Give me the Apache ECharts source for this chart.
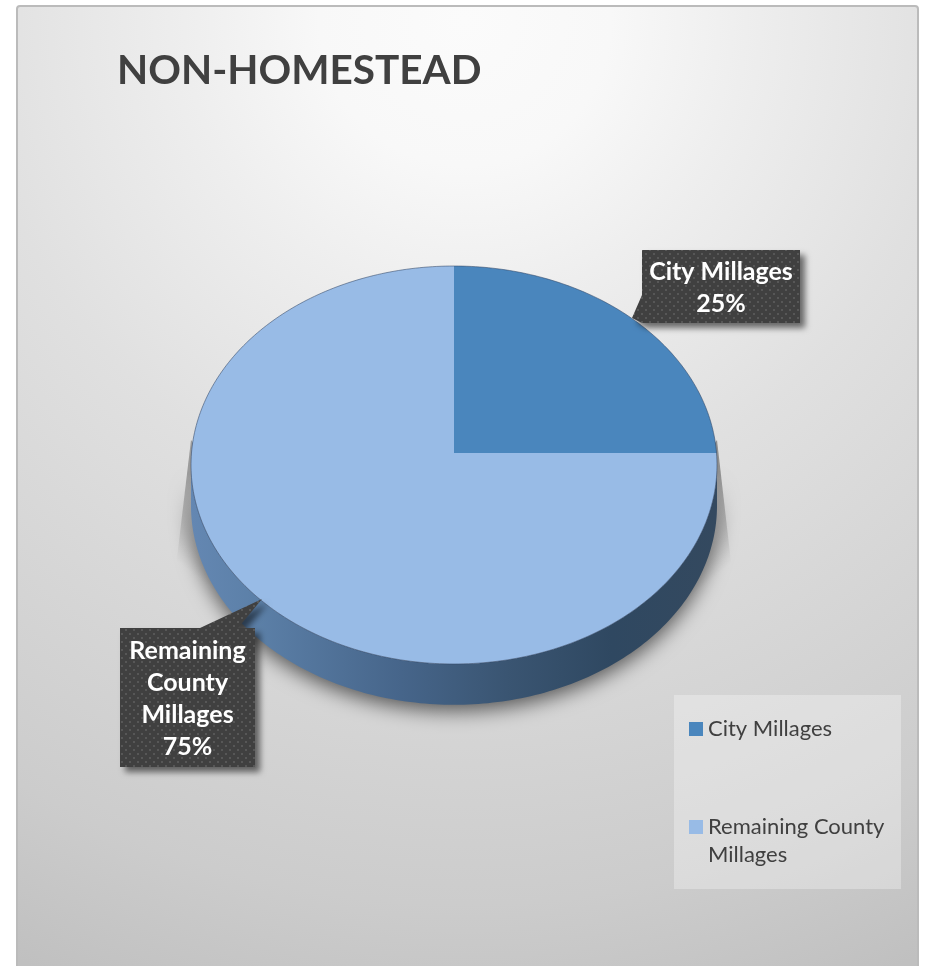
<!DOCTYPE html>
<html>
<head>
<meta charset="utf-8">
<script src="https://cdn.jsdelivr.net/npm/echarts@6/dist/echarts.min.js"></script>
<style>html,body{margin:0;padding:0;background:#fff}#c{width:928px;height:966px}</style>
</head>
<body>
<div id="c"></div>
<script>
const titleText = 'NON-HOMESTEAD';
const categories = ['City Millages', 'Remaining County Millages'];
const values = [25, 75];
const faceColors = ['#4a86bd', '#98bbe6'];
const labelLines = [['City Millages'], ['Remaining', 'County', 'Millages']];

const FONT = 'Lato, "Open Sans", sans-serif';
const total = values.reduce((a, b) => a + b, 0);
const APEX = 0.06, DEPTH = 0.205;
const boxes = [
  {x: 642, y: 250, w: 158, h: 73, tip: [632, 318], base: [[642, 295], [642, 323]]},
  {x: 120, y: 628, w: 135, h: 139, tip: [262, 599], base: [[200, 628], [238, 628]]}
];

function pointAt(theta) {
  const c = Math.cos(theta), s = Math.sin(theta);
  const t = -APEX * c + Math.sqrt(APEX * APEX * c * c + 1 - APEX * APEX);
  return [t * s, APEX + t * c];
}
const dots = document.createElement('canvas');
dots.width = 8; dots.height = 8;
(function () {
  const g = dots.getContext('2d');
  g.fillStyle = '#404040'; g.fillRect(0, 0, 8, 8);
  g.fillStyle = '#575757'; g.fillRect(1, 1, 2, 2); g.fillRect(5, 5, 2, 2);
})();
function grad(x, y, x2, y2, stops) {
  return {type: 'linear', x, y, x2, y2, global: true,
    colorStops: stops.map(s => ({offset: s[0], color: s[1]}))};
}

function makeRender(idx) {
  return function (params, api) {
    const before = values.slice(0, idx).reduce((a, b) => a + b, 0);
    const a0 = before / total * 2 * Math.PI;
    const a1 = (before + api.value(0)) / total * 2 * Math.PI;
    const arc = [];
    const steps = Math.max(2, Math.round((a1 - a0) / (Math.PI / 180)));
    for (let i = 0; i <= steps; i++) arc.push(pointAt(a0 + (a1 - a0) * i / steps));
    const children = [];
    const lower = arc.filter(p => p[1] < 0);
    if (lower.length > 1) {
      children.push({type: 'polygon',
        shape: {points: [[191, 440], [175, 575], [232, 620], [215, 470]]},
        style: {fill: grad(222, 500, 175, 560, [[0, 'rgba(0,0,0,0.3)'], [1, 'rgba(0,0,0,0)']])}});
      children.push({type: 'polygon',
        shape: {points: [[717, 440], [733, 580], [676, 625], [695, 470]]},
        style: {fill: grad(685, 500, 735, 560, [[0, 'rgba(0,0,0,0.36)'], [1, 'rgba(0,0,0,0)']])}});
      const top = lower.map(p => api.coord(p));
      const bottom = lower.map(p => api.coord([p[0], p[1] - DEPTH])).reverse();
      children.push({type: 'polygon', shape: {points: top.concat(bottom)},
        style: {
          fill: grad(191, 0, 717, 0, [[0, '#6487b2'], [0.12, '#5c80a8'], [0.4, '#46658a'],
            [0.6, '#3a5572'], [0.8, '#2f4861'], [1, '#34495f']]),
          shadowBlur: 20, shadowColor: 'rgba(0,0,0,0.6)', shadowOffsetY: 6
        }});
    }
    const apex = api.coord([0, APEX]);
    const arcPx = arc.map(p => api.coord(p));
    children.push({type: 'polygon', shape: {points: [apex].concat(arcPx)},
      style: {fill: api.visual('color')}});
    children.push({type: 'polyline', shape: {points: arcPx},
      style: {fill: null, stroke: 'rgba(50,70,100,0.55)', lineWidth: 1}});
    const b = boxes[idx];
    const pts = idx === 0
      ? [[b.x, b.y], [b.x + b.w, b.y], [b.x + b.w, b.y + b.h], [b.x, b.y + b.h], b.tip, [b.x, b.y + 45]]
      : [[b.x, b.y], b.base[0], b.tip, b.base[1], [b.x + b.w, b.y], [b.x + b.w, b.y + b.h], [b.x, b.y + b.h]];
    children.push({type: 'polygon', shape: {points: pts},
      style: {fill: {image: dots, repeat: 'repeat'}, shadowBlur: 6, shadowOffsetX: 5, shadowOffsetY: 5,
        shadowColor: 'rgba(0,0,0,0.55)'}});
    const pct = Math.round(api.value(0) / total * 100) + '%';
    children.push({type: 'text', style: {
      text: labelLines[idx].concat(pct).join('\n'),
      x: b.x + b.w / 2, y: b.y + b.h / 2 + 1, align: 'center', verticalAlign: 'middle',
      fill: '#fff', fontFamily: FONT, fontWeight: 'bold', fontSize: 25, lineHeight: 32
    }});
    return {type: 'group', children};
  };
}

const chart = echarts.init(document.getElementById('c'), null, {renderer: 'canvas'});
chart.setOption({
  animation: false,
  backgroundColor: '#fff',
  title: {text: titleText, left: 112, top: 45,
    textStyle: {color: '#404040', fontFamily: FONT, fontWeight: 'bold', fontSize: 40.5}},
  grid: {left: 191, width: 526, top: 266, height: 398},
  xAxis: {type: 'value', min: -1, max: 1, show: false},
  yAxis: {type: 'value', min: -1, max: 1, show: false},
  legend: {
    orient: 'vertical', left: 689, top: 715, padding: 0, itemGap: 42,
    itemWidth: 14, itemHeight: 14, icon: 'rect', selectedMode: false,
    data: categories,
    formatter: n => n.includes('County') ? '\n' + n.replace('County Millages', 'County\nMillages') : n,
    textStyle: {color: '#404040', fontFamily: FONT, fontSize: 22, lineHeight: 28}
  },
  graphic: [
    {type: 'rect', z: -10, silent: true, shape: {x: 17, y: 6, width: 901, height: 962, r: [3, 3, 0, 0]},
      style: {
        fill: {type: 'radial', x: 465, y: 20, r: 1040, global: true, colorStops: [
          {offset: 0, color: '#fbfbfb'}, {offset: 0.14, color: '#f8f8f8'}, {offset: 0.27, color: '#eeeeee'},
          {offset: 0.47, color: '#e0e0e0'}, {offset: 0.62, color: '#d8d8d8'},
          {offset: 0.85, color: '#cccccc'}, {offset: 1, color: '#c0c0c0'}]},
        stroke: '#bbbbbb', lineWidth: 2}},
    {type: 'rect', z: -9, silent: true, shape: {x: 674, y: 695, width: 227, height: 194},
      style: {fill: 'rgba(255,255,255,0.3)'}}
  ],
  series: categories.map((name, i) => ({
    type: 'custom', name, coordinateSystem: 'cartesian2d', clip: false, z: i === 0 ? 4 : 2,
    itemStyle: {color: faceColors[i]},
    data: [values[i]], encode: {y: 0},
    renderItem: makeRender(i), silent: true
  }))
});
</script>
</body>
</html>
